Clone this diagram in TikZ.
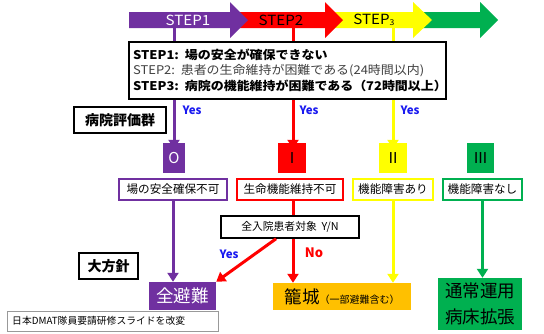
\documentclass[tikz,border=0pt]{standalone}
\usepackage{fontspec}
\setmainfont{Noto Sans CJK JP}
\newfontfamily\jpwide{Noto Sans CJK JP}[FakeStretch=1.08]
\usetikzlibrary{arrows.meta,calc}
\definecolor{cpur}{HTML}{7030A0}
\definecolor{cred}{HTML}{FF0000}
\definecolor{cyel}{HTML}{FFFF00}
\definecolor{cgrn}{HTML}{00B050}
\definecolor{corg}{HTML}{FFC000}
\definecolor{cblue}{HTML}{1A1AF0}
\newcommand{\fs}[2]{\fontsize{#1}{#2}\selectfont}
\begin{document}
\begin{tikzpicture}[x=1pt,y=-1pt,
  lvlbox/.style={inner sep=0pt,minimum height=30pt,font=\fs{15}{17}},
  labbox/.style={draw,line width=1.5pt,fill=white,inner sep=0pt,minimum height=21pt,font=\fs{11.6}{13}},
  flow/.style={line width=3pt,-{Triangle[width=11pt,length=9pt]}},
  yeslab/.style={text=cblue,font=\bfseries\fs{11.5}{13}},
  blackbox/.style={draw=black,line width=2pt,fill=white,inner sep=0pt,minimum height=26pt,font=\bfseries\fs{14}{16}},
  bigbox/.style={inner sep=0pt,font=\fs{17.5}{26}}
]
\useasboundingbox (0,0) rectangle (544,333);
% top step arrows
\fill[cgrn] (414,12) -- (480,12) -- (480,2) -- (498,20) -- (480,38) -- (480,28) -- (414,28) -- cycle;
\fill[cyel] (325,12) -- (413,12) -- (413,2) -- (432,20) -- (413,38) -- (413,28) -- (325,28) -- cycle;
\fill[cred] (230,12) -- (325,12) -- (325,2) -- (343,20) -- (325,38) -- (325,28) -- (230,28) -- cycle;
\fill[cpur] (129,12) -- (230,12) -- (230,2) -- (248,20) -- (230,38) -- (230,28) -- (129,28) -- cycle;
\node[text=white,font=\jpwide\fs{14}{15}] (s1) at (188,20) {STEP1};
\node[font=\jpwide\fs{14}{15}] (s2) at (281,20) {STEP2};
\node[font=\jpwide\fs{14}{15}] (s3) at (374,20) {STEP\raisebox{-1.5pt}{\fs{8}{9}3}};
\coordinate (p0) at (174,28);
\coordinate (p1) at (293,28);
\coordinate (p2) at (393,28);
% level boxes
\node[lvlbox,fill=cpur,text=white,minimum width=22pt] (l0) at (174,158) {O};
\node[lvlbox,fill=cred,minimum width=28pt] (l1) at (292,158) {Ⅰ};
\node[lvlbox,fill=cyel,minimum width=28pt] (l2) at (393,158) {Ⅱ};
\node[lvlbox,fill=cgrn,minimum width=27pt] (l3) at (480.5,158) {Ⅲ};
\draw[flow,cpur] (p0) -- ([yshift=-6pt]p0 |- l0.north);
\draw[flow,cred] (p1) -- ([yshift=-6pt]p1 |- l1.north);
\draw[flow,cyel] (p2) -- ([yshift=-6pt]p2 |- l2.north);
% description box
\node[draw,line width=1.5pt,fill=white,minimum width=317pt,minimum height=57pt,inner sep=0pt] (desc) at (287.5,70.5) {};
\node[anchor=west,inner sep=0pt,font=\jpwide\bfseries\fs{12}{14}] (d1) at (133,55) {STEP1:\ \ 場の安全が確保できない};
\node[anchor=west,inner sep=0pt,font=\jpwide\fs{12}{14},text=black!75] (d2) at (133,70.5) {STEP2:\ \ 患者の生命維持が困難である(24時間以内)};
\node[anchor=west,inner sep=0pt,font=\jpwide\bfseries\fs{12}{14}] (d3) at (133,86) {STEP3:\ \ 病院の機能維持が困難である（72時間以上）};
\node[yeslab] (y0) at (192,110) {Yes};
\node[yeslab] (y1) at (309,110) {Yes};
\node[yeslab] (y2) at (410,110) {Yes};
\node[blackbox,minimum width=92pt] (hyoka) at (120,120) {病院評価群};
% label boxes
\node[labbox,draw=cpur,minimum width=108pt] (lab0) at (173,189.5) {場の安全確保不可};
\node[labbox,draw=cred,minimum width=106pt] (lab1) at (290,189.5) {生命機能維持不可};
\node[labbox,draw=cyel,minimum width=80pt] (lab2) at (393,189.5) {機能障害あり};
\node[labbox,draw=cgrn,minimum width=79pt] (lab3) at (482.5,189.5) {機能障害なし};
% Y/N box
\node[draw,line width=1.5pt,fill=white,minimum width=138pt,minimum height=22pt,inner sep=0pt,font=\fs{10.8}{12}] (yn) at (290,227) {全入院患者対象\ \ Y/N};
% big result boxes
\node[bigbox,fill=cpur,text=white,minimum width=67pt,minimum height=28pt] (zen) at (182.5,296) {全避難};
\node[bigbox,fill=corg,minimum width=138pt,minimum height=27pt] (kago) at (342,296.5) {籠城{\fs{10}{12}（一部避難含む）}};
\node[bigbox,fill=cgrn,minimum width=84pt,minimum height=52pt,align=center] (grn) at (480,304) {通常運用\\病床拡張};
\node[blackbox,minimum width=59pt] (hoshin) at (108.5,266) {大方針};
% lower connectors
\draw[line width=3pt,cred] (lab1.south -| p1) -- (yn.north -| p1);
\draw[flow,cpur] (lab0.south) -- (lab0.south |- zen.north);
\draw[flow,cred] (yn.south -| p1) -- (kago.north -| p1);
\draw[flow,cred] ($(yn.south west)!0.4!(yn.south east)$) -- (zen.north east);
\draw[flow,cyel] (lab2.south) -- (lab2.south |- kago.north);
\draw[flow,cgrn] (lab3.south) -- (lab3.south |- grn.north);
\node[yeslab] (y3) at (229,254) {Yes};
\node[text=cred,font=\bfseries\fs{13}{15}] (no) at (314,253) {No};
% footnote
\node[draw=black!40,line width=0.6pt,fill=white,minimum width=211pt,minimum height=20pt,inner sep=0pt] (foot) at (112.5,321) {};
\node[anchor=west,inner sep=0pt,font=\fs{9.8}{11}] (foottxt) at (12,321) {日本DMAT隊員要請研修スライドを改変};
\end{tikzpicture}
\end{document}
